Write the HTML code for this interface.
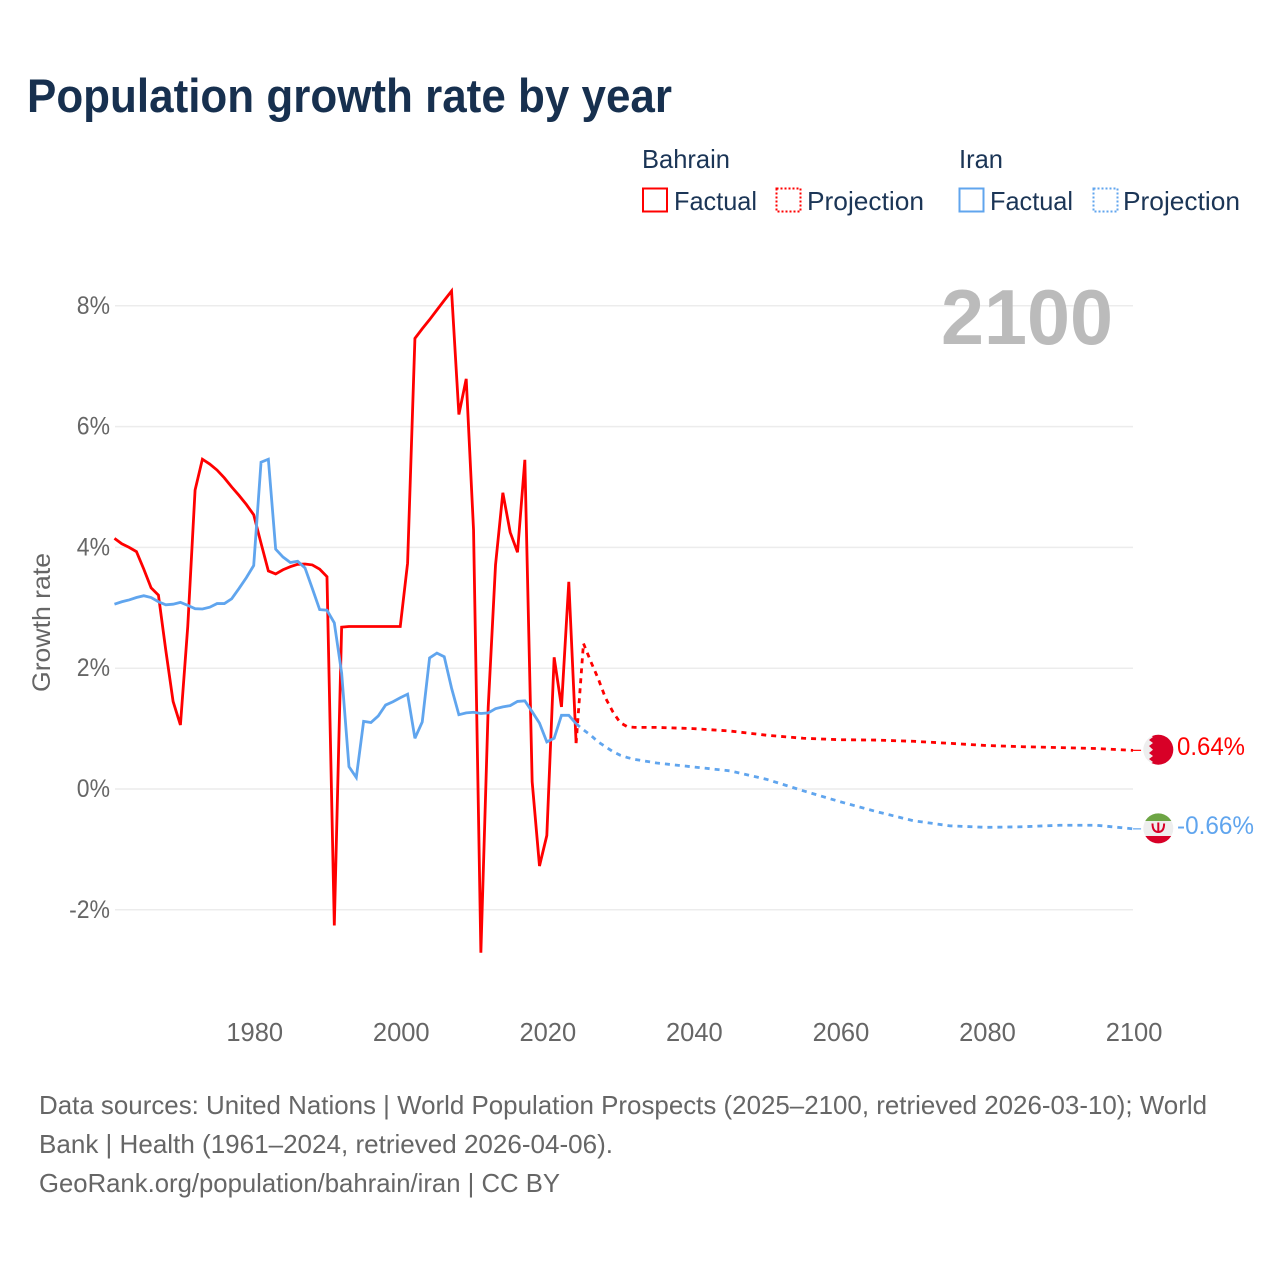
<!DOCTYPE html>
<html lang="en">
<head>
<meta charset="utf-8">
<title>Population growth rate by year</title>
<style>
  html, body { margin: 0; padding: 0; background: #fff; }
  svg { display: block; font-family: "Liberation Sans", sans-serif; }
</style>
</head>
<body>
<svg id="chart" width="1280" height="1280" viewBox="0 0 1280 1280" xmlns="http://www.w3.org/2000/svg">
  <defs>
    <clipPath id="flag-clip-bh"><circle cx="1158.3" cy="749.7" r="15"/></clipPath>
    <clipPath id="flag-clip-ir"><circle cx="1158.3" cy="828.4" r="15"/></clipPath>
  </defs>
  <rect width="1280" height="1280" fill="#fff"/>

  <text x="27" y="112" font-size="47" font-weight="700" fill="#17304f" textLength="645" lengthAdjust="spacingAndGlyphs">Population growth rate by year</text>

  <g font-size="26" fill="#1b3556">
    <text x="642" y="168" textLength="88" lengthAdjust="spacingAndGlyphs">Bahrain</text>
    <text x="959" y="168" textLength="44" lengthAdjust="spacingAndGlyphs">Iran</text>
    <rect x="643" y="188.5" width="24" height="23" fill="none" stroke="#ff0000" stroke-width="2"/>
    <text x="674" y="210" textLength="83" lengthAdjust="spacingAndGlyphs">Factual</text>
    <rect x="776.5" y="188.5" width="24" height="23" fill="none" stroke="#ff0000" stroke-width="2" stroke-dasharray="2,2"/>
    <text x="807" y="210" textLength="117" lengthAdjust="spacingAndGlyphs">Projection</text>
    <rect x="959.5" y="188.5" width="24" height="23" fill="none" stroke="#60a5ee" stroke-width="2"/>
    <text x="990" y="210" textLength="83" lengthAdjust="spacingAndGlyphs">Factual</text>
    <rect x="1093.5" y="188.5" width="24" height="23" fill="none" stroke="#60a5ee" stroke-width="2" stroke-dasharray="2,2"/>
    <text x="1123" y="210" textLength="117" lengthAdjust="spacingAndGlyphs">Projection</text>
  </g>

  <g id="grid"></g>
  <text x="941" y="344" font-size="78" font-weight="700" fill="#bbbbbb" textLength="172" lengthAdjust="spacingAndGlyphs">2100</text>
  <g id="y-ticks"></g>
  <g id="x-ticks"></g>
  <text transform="translate(50,692) rotate(-90)" font-size="25" fill="#666666" textLength="139" lengthAdjust="spacingAndGlyphs">Growth rate</text>
  <g id="series"></g>

  <g clip-path="url(#flag-clip-bh)">
    <rect x="1143" y="734" width="31" height="31" fill="#eeeeee"/>
    <polygon fill="#d80027" points="1174,734 1149,734 1153,737 1149,740 1153,743 1149,746 1153,749.7 1149,753 1153,756 1149,759 1153,762 1149,765 1174,765"/>
  </g>
  <g clip-path="url(#flag-clip-ir)">
    <rect x="1143" y="813" width="31" height="31" fill="#eeeeee"/>
    <rect x="1143" y="813" width="31" height="8" fill="#6da544"/>
    <rect x="1143" y="836" width="31" height="9" fill="#d80027"/>
    <path d="M1152.5 823.5 q0 8.5 5.8 8.5 q5.8 0 5.8 -8.5 M1158.3 822.5 v10" fill="none" stroke="#d80027" stroke-width="2"/>
  </g>
  <text x="1177" y="755" font-size="25" fill="#ff0000" textLength="68" lengthAdjust="spacingAndGlyphs">0.64%</text>
  <text x="1177" y="834" font-size="25" fill="#60a5ee" textLength="77" lengthAdjust="spacingAndGlyphs">-0.66%</text>

  <g font-size="26" fill="#666666">
    <text x="39" y="1114" textLength="1168" lengthAdjust="spacingAndGlyphs">Data sources: United Nations | World Population Prospects (2025–2100, retrieved 2026-03-10); World</text>
    <text x="39" y="1153" textLength="574" lengthAdjust="spacingAndGlyphs">Bank | Health (1961–2024, retrieved 2026-04-06).</text>
    <text x="39" y="1192" textLength="521" lengthAdjust="spacingAndGlyphs">GeoRank.org/population/bahrain/iran | CC BY</text>
  </g>
</svg>
<script>
const yTickValues = [-2, 0, 2, 4, 6, 8];
const yTickLabels = ["-2%", "0%", "2%", "4%", "6%", "8%"];
const xTickValues = [1980, 2000, 2020, 2040, 2060, 2080, 2100];
const xTickLabels = ["1980", "2000", "2020", "2040", "2060", "2080", "2100"];

const factualYears = [1961,1962,1963,1964,1965,1966,1967,1968,1969,1970,1971,1972,1973,1974,1975,1976,1977,1978,1979,1980,1981,1982,1983,1984,1985,1986,1987,1988,1989,1990,1991,1992,1993,1994,1995,1996,1997,1998,1999,2000,2001,2002,2003,2004,2005,2006,2007,2008,2009,2010,2011,2012,2013,2014,2015,2016,2017,2018,2019,2020,2021,2022,2023,2024];
const bahrainFactual = [4.15,4.06,4.0,3.93,3.64,3.33,3.21,2.30,1.45,1.06,2.69,4.95,5.46,5.38,5.28,5.15,5.0,4.86,4.71,4.54,4.07,3.61,3.56,3.63,3.68,3.72,3.725,3.71,3.64,3.515,-2.26,2.68,2.69,2.69,2.69,2.69,2.69,2.69,2.69,2.69,3.74,7.46,7.62,7.77,7.93,8.09,8.245,6.2,6.79,4.29,-2.71,1.35,3.71,4.905,4.25,3.92,5.45,0.12,-1.275,-0.77,2.18,1.36,3.43,0.76];
const iranFactual = [3.06,3.10,3.13,3.17,3.20,3.17,3.10,3.05,3.06,3.09,3.04,2.985,2.98,3.01,3.07,3.07,3.15,3.32,3.50,3.70,5.41,5.46,3.97,3.84,3.75,3.77,3.66,3.32,2.97,2.96,2.75,1.92,0.37,0.19,1.12,1.10,1.21,1.39,1.445,1.51,1.57,0.84,1.11,2.17,2.25,2.19,1.67,1.23,1.26,1.27,1.25,1.26,1.33,1.36,1.38,1.45,1.46,1.28,1.09,0.78,0.84,1.22,1.22,1.08];

const projectionYears = [2024,2025,2026,2027,2028,2029,2030,2031,2032,2033,2035,2040,2045,2050,2055,2060,2065,2070,2075,2080,2085,2090,2095,2100];
const bahrainProjection = [0.76,2.41,2.11,1.83,1.51,1.28,1.10,1.03,1.02,1.02,1.02,1.0,0.96,0.89,0.84,0.816,0.81,0.79,0.756,0.72,0.70,0.685,0.67,0.64];
const iranProjection = [1.08,0.98,0.89,0.78,0.70,0.62,0.56,0.52,0.49,0.47,0.43,0.365,0.30,0.16,-0.03,-0.21,-0.375,-0.525,-0.61,-0.635,-0.625,-0.60,-0.60,-0.66];

const NS = "http://www.w3.org/2000/svg";
const RED = "#ff0000";
const BLUE = "#60a5ee";

function xScale(year) { return 253.7 + (year - 1980) * 7.328; }
function yScale(value) { return 789 - value * 60.4; }

function pointsFor(years, values) {
  return years.map(function (yr, i) {
    return xScale(yr).toFixed(2) + "," + yScale(values[i]).toFixed(2);
  }).join(" ");
}

const gridLayer = document.getElementById("grid");
const yTickLayer = document.getElementById("y-ticks");
const xTickLayer = document.getElementById("x-ticks");
const seriesLayer = document.getElementById("series");

yTickValues.forEach(function (v, i) {
  const line = document.createElementNS(NS, "line");
  
  
  line.setAttribute("x1", 115);
  line.setAttribute("x2", 1133);
  line.setAttribute("y1", yScale(v));
  line.setAttribute("y2", yScale(v));
  line.setAttribute("stroke", "#ececec");
  line.setAttribute("stroke-width", "1.5");
  gridLayer.appendChild(line);

  const label = document.createElementNS(NS, "text");
  
  
  label.setAttribute("x", 110);
  label.setAttribute("y", yScale(v) + 8);
  label.setAttribute("text-anchor", "end");
  label.setAttribute("font-size", "25");
  label.setAttribute("fill", "#666666");
  label.textContent = yTickLabels[i];
  yTickLayer.appendChild(label);
  label.setAttribute("textLength", (label.getComputedTextLength() * 0.92).toFixed(1));
  label.setAttribute("lengthAdjust", "spacingAndGlyphs");
});

xTickValues.forEach(function (v, i) {
  const label = document.createElementNS(NS, "text");
  
  
  label.setAttribute("x", xScale(v) + 1);
  label.setAttribute("y", 1041);
  label.setAttribute("text-anchor", "middle");
  label.setAttribute("font-size", "25.5");
  label.setAttribute("fill", "#666666");
  label.textContent = xTickLabels[i];
  xTickLayer.appendChild(label);
});

function addLine(name, years, values, color, dashed) {
  const line = document.createElementNS(NS, "polyline");
  
  
  line.setAttribute("points", pointsFor(years, values));
  line.setAttribute("fill", "none");
  line.setAttribute("stroke", color);
  line.setAttribute("stroke-width", "2.8");
  line.setAttribute("stroke-linejoin", "miter");
  line.setAttribute("stroke-miterlimit", "3");
  if (dashed) line.setAttribute("stroke-dasharray", "5,5");
  seriesLayer.appendChild(line);
}

function addConnector(name, value, color) {
  const line = document.createElementNS(NS, "line");
  
  
  line.setAttribute("x1", xScale(2100));
  line.setAttribute("x2", xScale(2100) + 8);
  line.setAttribute("y1", yScale(value));
  line.setAttribute("y2", yScale(value));
  line.setAttribute("stroke", color);
  line.setAttribute("stroke-width", "1.2");
  seriesLayer.appendChild(line);
}

addLine("line-bahrain-factual", factualYears, bahrainFactual, RED, false);
addLine("line-bahrain-projection", projectionYears, bahrainProjection, RED, true);
addLine("line-iran-factual", factualYears, iranFactual, BLUE, false);
addLine("line-iran-projection", projectionYears, iranProjection, BLUE, true);
addConnector("connector-bahrain", bahrainProjection[bahrainProjection.length - 1], RED);
addConnector("connector-iran", iranProjection[iranProjection.length - 1], BLUE);
</script>
</body>
</html>
